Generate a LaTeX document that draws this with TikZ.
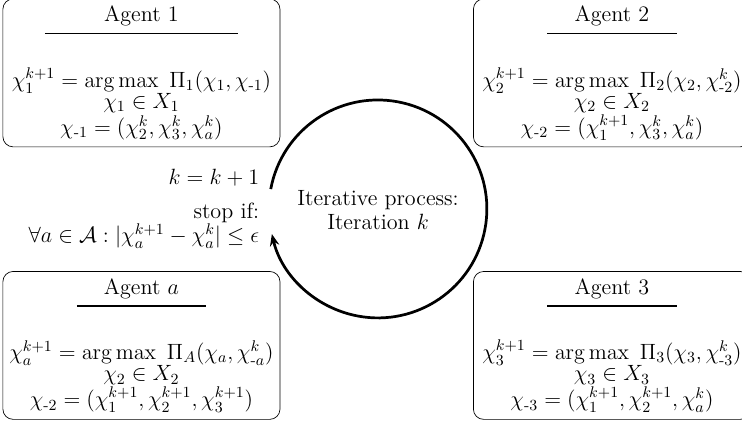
\documentclass[tikz,border=0pt]{standalone}
\usepackage{fix-cm}
\usepackage{amsmath,amssymb}
\usepackage{tikz}
\usetikzlibrary{arrows.meta,positioning,calc}
\newcommand{\chio}[1]{\chi_{\text{-}#1}}
\newcommand{\tightfont}{\fontsize{13pt}{12.4pt}\selectfont\lineskiplimit=-50pt\relax}
\tikzset{
  agentbox/.style={draw, rounded corners=6pt, align=center, minimum width=163pt,
    minimum height=87pt, inner xsep=1pt, inner ysep=2pt},
  loopnode/.style={circle, align=center, minimum size=128.2pt, inner sep=0pt},
  looparr/.style={-{Stealth[length=7pt, width=5.5pt]}, line width=1.6pt},
  sidetext/.style={align=right, anchor=east}
}
\begin{document}
\begin{tikzpicture}[font=\tightfont]
  \useasboundingbox (0,0) rectangle (436.5pt,249.4pt);
  \node[loopnode] (iter) at (222.4pt,125.9pt) {Iterative process:\\[1.6pt]Iteration $k$};
  \node[agentbox] (agent1) at (83.2pt,206.5pt) {Agent 1\\[-4.9pt]\rule{113.5pt}{0.8pt}\\[18.7pt]
    $\chi_1^{k+1} = \arg\max\ \Pi_1(\chi_1, \chio{1})$\\
    $\chi_1 \in X_1$\\[2.9pt]
    $\chio{1} = (\chi_2^k, \chi_3^k, \chi_a^k)$};
  \node[agentbox] (agent2) at (360pt,206.5pt) {Agent 2\\[-4.9pt]\rule{76pt}{0.8pt}\\[18.7pt]
    $\chi_2^{k+1} = \arg\max\ \Pi_2(\chi_2, \chio{2}^k)$\\
    $\chi_2 \in X_2$\\[2.9pt]
    $\chio{2} = (\chi_1^{k+1}, \chi_3^k, \chi_a^k)$};
  \node[agentbox] (agenta) at (83.2pt,46.2pt) {Agent $a$\\[-4.9pt]\rule{76pt}{0.8pt}\\[18.7pt]
    $\chi_a^{k+1} = \arg\max\ \Pi_A(\chi_a, \chio{a}^k)$\\
    $\chi_2 \in X_2$\\[2.9pt]
    $\chio{2} = (\chi_1^{k+1}, \chi_2^{k+1}, \chi_3^{k+1})$};
  \node[agentbox] (agent3) at (360pt,46.2pt) {Agent 3\\[-4.9pt]\rule{76pt}{0.8pt}\\[18.7pt]
    $\chi_3^{k+1} = \arg\max\ \Pi_3(\chi_3, \chio{3}^k)$\\
    $\chi_3 \in X_3$\\[2.9pt]
    $\chio{3} = (\chi_1^{k+1}, \chi_2^{k+1}, \chi_a^k)$};
  \node[sidetext] (update) at ([xshift=-2.1pt, yshift=18.8pt]iter.west) {$k = k + 1$};
  \node[sidetext] (stopif) at ([xshift=-2.1pt, yshift=-9.4pt]iter.west)
    {stop if:\\[1.7pt]$\forall a \in \mathcal{A} : |\chi_a^{k+1} - \chi_a^k| \leq \epsilon$};
  \draw[looparr] (iter.169.5) arc[start angle=169.5, end angle=-166.7, radius=64.1pt];
\end{tikzpicture}
\end{document}
